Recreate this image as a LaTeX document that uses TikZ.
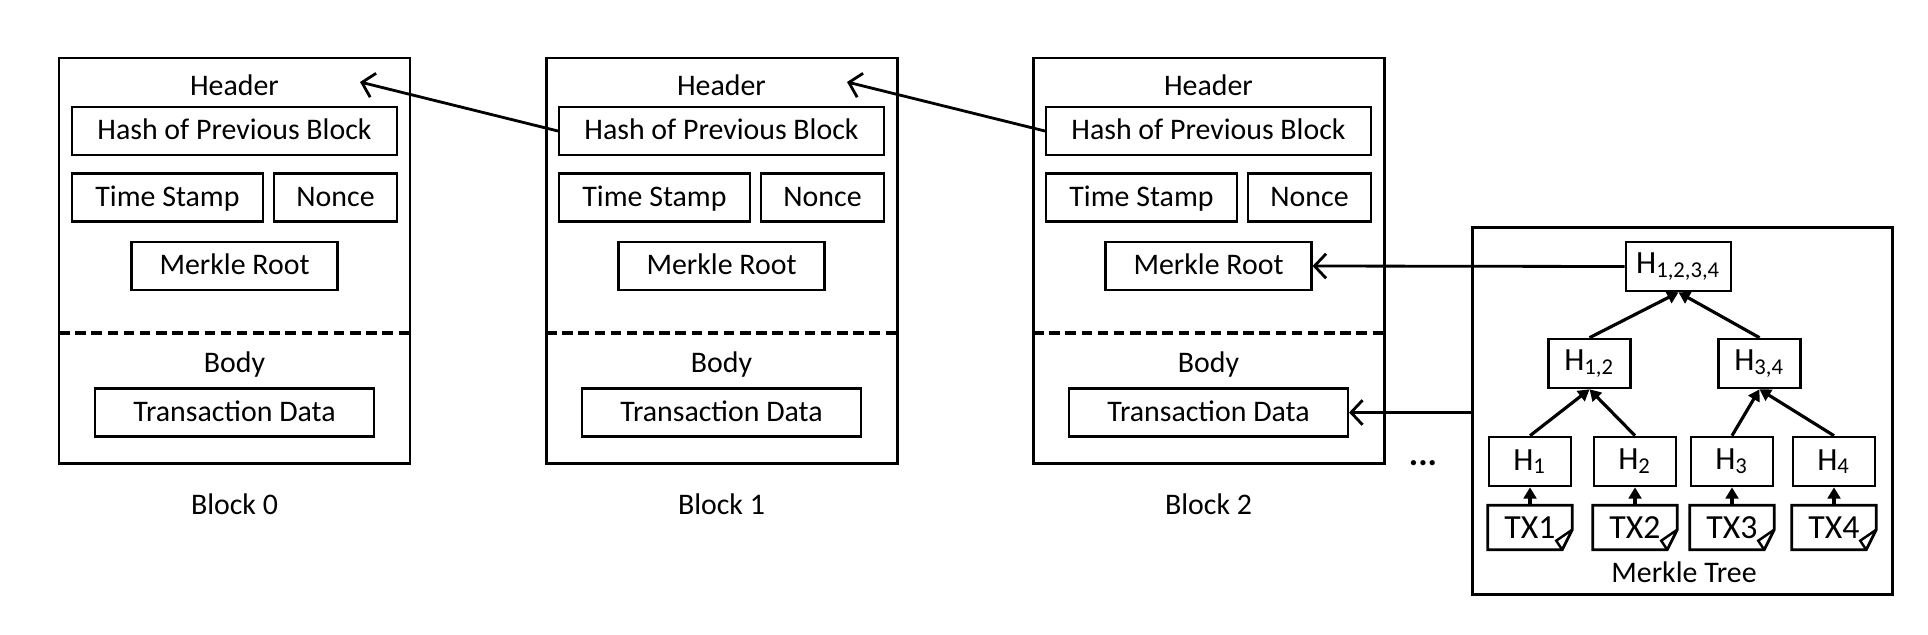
\documentclass[tikz,border=0pt]{standalone}
\usepackage{fontspec}
\setmainfont{Carlito}
\usetikzlibrary{positioning,arrows.meta}

\tikzset{
	block/.style={draw, line width=0.85pt, inner sep=0pt},
	field/.style={draw, line width=0.6pt, minimum height=0.48cm, inner sep=0pt, text height=1.4ex, text depth=0.35ex},
	hnode/.style={draw, line width=0.75pt, minimum height=0.49cm, minimum width=0.82cm, inner sep=0pt, font=\fontsize{9.2pt}{10pt}\selectfont},
	txnote/.style={minimum height=0.43cm, minimum width=0.83cm, inner sep=0pt, font=\fontsize{9.6pt}{10pt}\selectfont},
	divider/.style={line width=0.9pt, dash pattern=on 3pt off 1.6pt},
	link/.style={-{Straight Barb[length=3.3pt, width=7pt]}, line width=0.8pt},
	hashup/.style={-{Triangle[length=3.2pt, width=3.6pt]}, line width=0.9pt}
}

\begin{document}
\begin{tikzpicture}[font=\fontsize{8.5pt}{10pt}\selectfont]
			\useasboundingbox (0,0) rectangle (19.28,6.34);
			
			% Block 0
			\node[block, minimum width=3.51cm, minimum height=4.05cm] (block0) at (2.345,3.735) {};
			\node (header0) at (2.345,5.49) {Header};
			\node[field, minimum width=3.25cm] (hash0) at (2.345,5.03) {Hash of Previous Block};
			\node[field, minimum width=1.91cm] (time0) at (1.675,4.365) {Time Stamp};
			\node[field, minimum width=1.23cm] (nonce0) at (3.355,4.365) {Nonce};
			\node[field, minimum width=2.06cm] (root0) at (2.345,3.68) {Merkle Root};
			\draw[divider] (0.59,3.01) -- (4.10,3.01);
			\node (body0) at (2.345,2.69) {Body};
			\node[field, minimum width=2.79cm] (data0) at (2.345,2.215) {Transaction Data};
			\node (name0) at (2.345,1.30) {Block 0};
			
			% Block 1
			\node[block, minimum width=3.51cm, minimum height=4.05cm] (block1) at (7.215,3.735) {};
			\node (header1) at (7.215,5.49) {Header};
			\node[field, minimum width=3.25cm] (hash1) at (7.215,5.03) {Hash of Previous Block};
			\node[field, minimum width=1.91cm] (time1) at (6.545,4.365) {Time Stamp};
			\node[field, minimum width=1.23cm] (nonce1) at (8.225,4.365) {Nonce};
			\node[field, minimum width=2.06cm] (root1) at (7.215,3.68) {Merkle Root};
			\draw[divider] (5.46,3.01) -- (8.97,3.01);
			\node (body1) at (7.215,2.69) {Body};
			\node[field, minimum width=2.79cm] (data1) at (7.215,2.215) {Transaction Data};
			\node (name1) at (7.215,1.30) {Block 1};
			
			% Block 2
			\node[block, minimum width=3.51cm, minimum height=4.05cm] (block2) at (12.085,3.735) {};
			\node (header2) at (12.085,5.49) {Header};
			\node[field, minimum width=3.25cm] (hash2) at (12.085,5.03) {Hash of Previous Block};
			\node[field, minimum width=1.91cm] (time2) at (11.415,4.365) {Time Stamp};
			\node[field, minimum width=1.23cm] (nonce2) at (13.095,4.365) {Nonce};
			\node[field, minimum width=2.06cm] (root2) at (12.085,3.68) {Merkle Root};
			\draw[divider] (10.33,3.01) -- (13.84,3.01);
			\node (body2) at (12.085,2.69) {Body};
			\node[field, minimum width=2.79cm] (data2) at (12.085,2.215) {Transaction Data};
			\node (name2) at (12.085,1.30) {Block 2};
			
			\node (dots) at (14.23,1.71) {\fontsize{10pt}{10pt}\selectfont\textbf{...}};
			
			% links to the previous block
			\coordinate (tip0) at (3.60,5.52);
			\coordinate (tip1) at (8.47,5.52);
			\draw[link] (hash1.west) -- (tip0);
			\draw[link] (hash2.west) -- (tip1);
			
			% Merkle tree
			\node[block, minimum width=4.20cm, minimum height=3.67cm] (tree) at (16.82,2.235) {};
			\node[hnode, minimum width=1.05cm] (h1234) at (16.785,3.675) {H\textsubscript{1,2,3,4}};
			\node[hnode] (h12) at (15.895,2.705) {H\textsubscript{1,2}};
			\node[hnode] (h34) at (17.595,2.705) {H\textsubscript{3,4}};
			\node[hnode] (h1) at (15.30,1.725) {H\textsubscript{1}};
			\node[hnode] (h2) at (16.35,1.725) {H\textsubscript{2}};
			\node[hnode] (h3) at (17.32,1.725) {H\textsubscript{3}};
			\node[hnode] (h4) at (18.34,1.725) {H\textsubscript{4}};
			\node[txnote] (tx1) at (15.30,1.065) {TX1};
			\node[txnote] (tx2) at (16.35,1.065) {TX2};
			\node[txnote] (tx3) at (17.32,1.065) {TX3};
			\node[txnote] (tx4) at (18.34,1.065) {TX4};
			\foreach \t in {tx1,tx2,tx3,tx4} {
				\draw[line width=0.8pt, line join=miter] (\t.north west) -- (\t.north east) -- ([yshift=0.2cm]\t.south east) -- ([xshift=-0.1cm]\t.south east) -- (\t.south west) -- cycle;
				\draw[line width=0.7pt] ([yshift=0.2cm]\t.south east) -- ([xshift=-0.16cm,yshift=0.09cm]\t.south east) -- ([xshift=-0.1cm]\t.south east);
			}
			\node (treename) at (16.84,0.62) {Merkle Tree};
			
			\draw[hashup] (tx1) -- (h1);
			\draw[hashup] (tx2) -- (h2);
			\draw[hashup] (tx3) -- (h3);
			\draw[hashup] (tx4) -- (h4);
			\draw[hashup] (h1.north) -- (h12.south);
			\draw[hashup] (h2.north) -- (h12.south);
			\draw[hashup] (h3.north) -- (h34.south);
			\draw[hashup] (h4.north) -- (h34.south);
			\draw[hashup] (h12.north) -- (h1234.south);
			\draw[hashup] (h34.north) -- (h1234.south);
			
			\draw[link] (h1234.west) -- (root2.east);
			\draw[link] (tree.west |- data2) -- (data2.east);
		\end{tikzpicture}
\end{document}
